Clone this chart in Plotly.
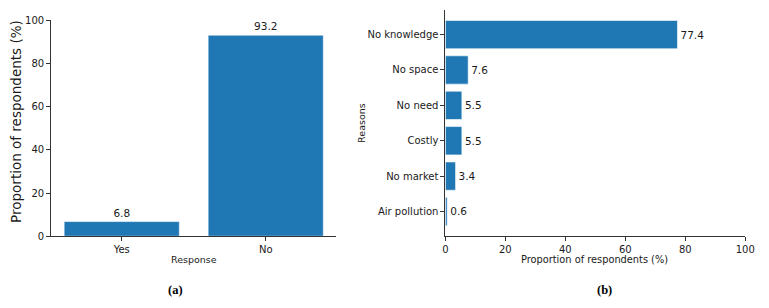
import plotly.graph_objects as go

# Data
responses = ["Yes", "No"]
response_pct = [6.8, 93.2]

reasons = ["Air pollution", "No market", "Costly", "No need", "No space", "No knowledge"]
reason_pct = [0.6, 3.4, 5.5, 5.5, 7.6, 77.4]

y_ticks = [0, 20, 40, 60, 80, 100]

W, H = 769, 308
BAR = "#1f77b4"
FONT = "DejaVu Sans"
TXT = "#1a1a1a"

def fx(px):
    return px / W

def fy(py):
    return 1 - py / H

fig = go.Figure()

fig.add_trace(go.Bar(
    x=responses, y=response_pct, width=0.8,
    marker=dict(color=BAR, line=dict(color="white", width=0.6)),
    text=[f"{v:.1f}" for v in response_pct], textposition="outside",
    textfont=dict(family=FONT, size=10.5, color=TXT),
    cliponaxis=False, constraintext="none",
    xaxis="x", yaxis="y", showlegend=False,
))

fig.add_trace(go.Bar(
    x=reason_pct, y=reasons, orientation="h", width=0.8,
    marker=dict(color=BAR, line=dict(color="white", width=0.6)),
    text=[f"{v:.1f}" for v in reason_pct], textposition="outside",
    textfont=dict(family=FONT, size=10.5, color=TXT),
    cliponaxis=False, constraintext="none",
    xaxis="x2", yaxis="y2", showlegend=False,
))

axis_common = dict(
    showline=True, linecolor="#333", linewidth=1,
    ticks="outside", ticklen=4, tickcolor="#333", tickwidth=1,
    showgrid=False, zeroline=False,
    tickfont=dict(family=FONT, size=10, color=TXT),
)

fig.update_layout(
    width=W, height=H,
    margin=dict(l=0, r=0, t=0, b=0),
    paper_bgcolor="white", plot_bgcolor="white",
    font=dict(family=FONT, color=TXT),
    bargap=0.2,
    xaxis=dict(domain=[fx(49), fx(339)], anchor="y", range=[-0.49, 1.49],
               **axis_common),
    yaxis=dict(domain=[fy(239), fy(16)], anchor="x", range=[0, 100],
               tickvals=y_ticks, **axis_common),
    xaxis2=dict(domain=[fx(450), fx(755)], anchor="y2", range=[0, 100],
                tickvals=y_ticks, **axis_common),
    yaxis2=dict(domain=[fy(239), fy(5)], anchor="x2", range=[-0.7, 5.7],
                categoryorder="array", categoryarray=reasons, **axis_common),
)

ann = [
    dict(text="Proportion of respondents (%)", x=fx(13), y=fy(120), textangle=-90,
         font=dict(family=FONT, size=13.5, color=TXT)),
    dict(text="Response", x=fx(194), y=fy(263),
         font=dict(family=FONT, size=9.5, color=TXT)),
    dict(text="Reasons", x=fx(364), y=fy(122), textangle=-90,
         font=dict(family=FONT, size=9.5, color=TXT)),
    dict(text="Proportion of respondents (%)", x=fx(602), y=fy(263),
         font=dict(family=FONT, size=9.8, color=TXT)),
    dict(text="<b>(a)</b>", x=fx(175), y=fy(295),
         font=dict(family="Liberation Serif", size=12.5, color="black")),
    dict(text="<b>(b)</b>", x=fx(612), y=fy(295),
         font=dict(family="Liberation Serif", size=12.5, color="black")),
]
for a in ann:
    a.update(xref="paper", yref="paper", showarrow=False, xanchor="center", yanchor="middle")
fig.update_layout(annotations=ann)

fig.write_html("out.html")
